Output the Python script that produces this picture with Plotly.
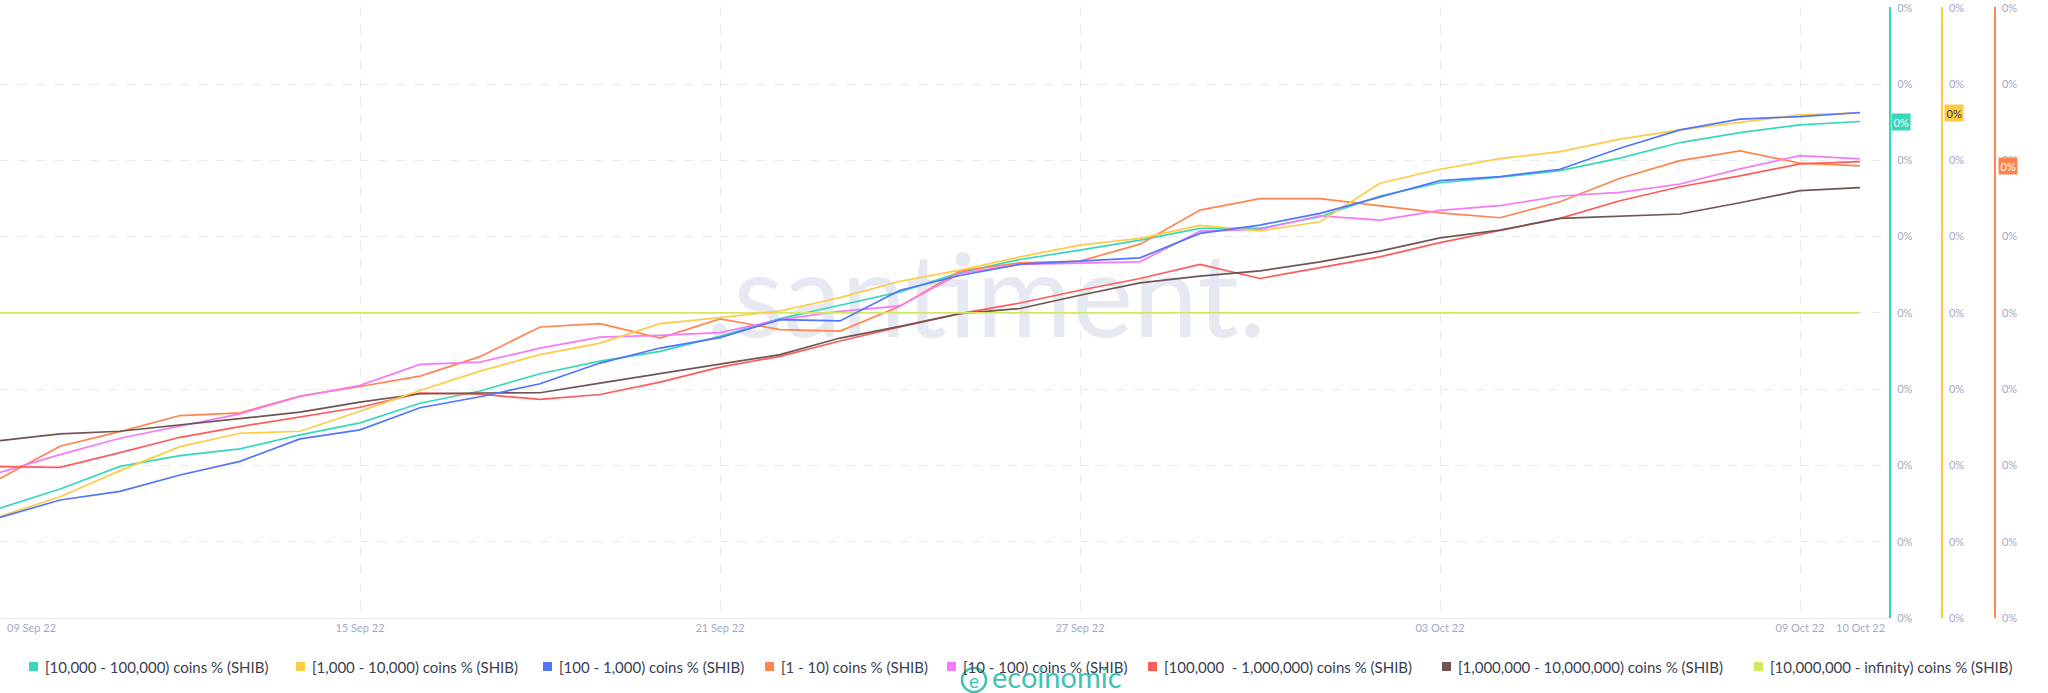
import pandas as pd
import plotly.graph_objects as go

# ---------------- data ----------------
dates = pd.date_range("2022-09-09", periods=32, freq="D")

series_names = [
    "[10,000 - 100,000) coins % (SHIB)",
    "[1,000 - 10,000) coins % (SHIB)",
    "[100 - 1,000) coins % (SHIB)",
    "[1 - 10) coins % (SHIB)",
    "[10 - 100) coins % (SHIB)",
    "[100,000  - 1,000,000) coins % (SHIB)",
    "[1,000,000 - 10,000,000) coins % (SHIB)",
    "[10,000,000 - infinity) coins % (SHIB)",
]

teal_10k_100k = [1.441, 1.691, 1.988, 2.129, 2.217, 2.401, 2.558, 2.816, 2.976, 3.202, 3.368,
                 3.495, 3.693, 3.925, 4.100, 4.275, 4.527, 4.700, 4.823, 4.954, 5.108, 5.108,
                 5.260, 5.532, 5.706, 5.778, 5.865, 6.028, 6.233, 6.364, 6.465, 6.509]
yellow_1k_10k = [1.331, 1.590, 1.932, 2.247, 2.422, 2.448, 2.711, 2.983, 3.237, 3.452, 3.604,
                 3.859, 3.938, 4.025, 4.201, 4.415, 4.560, 4.735, 4.888, 4.976, 5.147, 5.076,
                 5.194, 5.699, 5.883, 6.022, 6.114, 6.277, 6.399, 6.495, 6.597, 6.619]
blue_100_1k = [1.318, 1.547, 1.660, 1.875, 2.054, 2.348, 2.466, 2.756, 2.900, 3.071, 3.342,
               3.539, 3.675, 3.912, 3.894, 4.297, 4.490, 4.639, 4.678, 4.721, 5.042, 5.151,
               5.305, 5.515, 5.733, 5.786, 5.883, 6.159, 6.399, 6.540, 6.574, 6.627]
orange_1_10 = [1.830, 2.251, 2.444, 2.654, 2.690, 2.908, 3.035, 3.171, 3.426, 3.815, 3.859,
               3.670, 3.920, 3.781, 3.762, 4.087, 4.549, 4.656, 4.678, 4.901, 5.348, 5.497,
               5.497, 5.401, 5.311, 5.247, 5.457, 5.765, 5.996, 6.124, 5.962, 5.926]
pink_10_100 = [1.909, 2.142, 2.356, 2.514, 2.677, 2.904, 3.049, 3.325, 3.355, 3.539, 3.683,
               3.706, 3.741, 3.912, 4.021, 4.091, 4.516, 4.635, 4.656, 4.669, 5.072, 5.095,
               5.273, 5.217, 5.344, 5.405, 5.532, 5.581, 5.690, 5.887, 6.062, 6.018]
red_100k_1m = [1.984, 1.975, 2.168, 2.369, 2.510, 2.632, 2.763, 2.947, 2.934, 2.865, 2.930,
               3.092, 3.289, 3.430, 3.631, 3.815, 3.991, 4.130, 4.297, 4.451, 4.635, 4.451,
               4.590, 4.735, 4.921, 5.085, 5.239, 5.470, 5.654, 5.795, 5.953, 5.983]
brown_1m_10m = [2.326, 2.414, 2.448, 2.532, 2.611, 2.698, 2.829, 2.940, 2.950, 2.953, 3.079,
                3.202, 3.334, 3.452, 3.670, 3.824, 3.991, 4.057, 4.231, 4.393, 4.481, 4.551,
                4.669, 4.809, 4.983, 5.085, 5.239, 5.269, 5.296, 5.444, 5.602, 5.641]
lime_10m_inf = [4.0, 4.0, 4.0, 4.0, 4.0, 4.0, 4.0, 4.0, 4.0, 4.0, 4.0, 4.0, 4.0, 4.0, 4.0, 4.0,
                4.0, 4.0, 4.0, 4.0, 4.0, 4.0, 4.0, 4.0, 4.0, 4.0, 4.0, 4.0, 4.0, 4.0, 4.0, 4.0]

series_values = [teal_10k_100k, yellow_1k_10k, blue_100_1k, orange_1_10,
                 pink_10_100, red_100k_1m, brown_1m_10m, lime_10m_inf]

x_tick_dates = ["2022-09-09", "2022-09-15", "2022-09-21", "2022-09-27", "2022-10-03", "2022-10-09"]
x_tick_text = ["", "15 Sep 22", "21 Sep 22", "27 Sep 22", "03 Oct 22", "09 Oct 22"]
y_tick_vals = [0, 1, 2, 3, 4, 5, 6, 7, 8]
y_tick_text = ["0%"] * 9

# ---------------- style ----------------
colors = ["#37D7BA", "#FFCB47", "#5275FF", "#FF8450", "#F47BF7", "#FF5B5B", "#6E5552", "#D4E763"]
yaxes = ["y", "y2", "y3", "y", "y", "y", "y", "y"]
FONT = "Lato"
TICK_COLOR = "#9FAAC4"
GRID = "#E7EAF3"

W, H = 2048, 693
L, R, T, B = 0, 48, 7, 75
PW, PH = W - L - R, H - T - B
Y_TOP = 8.01


def px(x):
    return x / PW


def py(y):
    return (T + PH - y) / PH


x_start = pd.Timestamp("2022-09-09")
x_end = pd.Timestamp("2022-10-10 11:36")

fig = go.Figure()

# watermark (drawn first so the lines sit above it)
fig.add_trace(go.Scatter(
    x=[x_start + (x_end - x_start) * 0.522], y=[y_tick_vals[-1] * 0.508],
    mode="text", text=[".santiment."],
    textfont=dict(family=FONT, size=116, color="#E6E9F1", weight=400),
    hoverinfo="skip", showlegend=False,
))

for name, vals, col, ya in zip(series_names, series_values, colors, yaxes):
    fig.add_trace(go.Scatter(
        x=dates, y=vals, name=name, mode="lines", yaxis=ya,
        line=dict(color=col, width=1.7), showlegend=False,
    ))

common_y = dict(range=[0, Y_TOP], tickvals=y_tick_vals, ticktext=y_tick_text,
                tickfont=dict(family=FONT, size=11, color=TICK_COLOR),
                ticks="", zeroline=False, fixedrange=True, automargin=False,
                ticklabelstandoff=4)

fig.update_layout(
    width=W, height=H,
    margin=dict(l=L, r=R, t=T, b=B, pad=0),
    paper_bgcolor="white", plot_bgcolor="white",
    font=dict(family=FONT),
    showlegend=False,
    xaxis=dict(
        type="date", range=[x_start, x_end], domain=[0, 1889 / PW],
        tickvals=x_tick_dates, ticktext=x_tick_text,
        tickfont=dict(family=FONT, size=11, color=TICK_COLOR),
        showgrid=True, gridcolor=GRID, griddash="dash", gridwidth=1,
        showline=True, linecolor=GRID, linewidth=1, ticks="",
        zeroline=False, fixedrange=True, automargin=False,
    ),
    yaxis=dict(side="right", anchor="x", showline=True, linecolor=colors[0], linewidth=2,
               showgrid=True, gridcolor=GRID, griddash="dash", gridwidth=1, **common_y),
    yaxis2=dict(side="right", overlaying="y", anchor="free", position=1942 / PW,
                showline=True, linecolor=colors[1], linewidth=1.5, showgrid=False, **common_y),
    yaxis3=dict(side="right", overlaying="y", anchor="free", position=1995 / PW,
                showline=True, linecolor=colors[3], linewidth=1.5, showgrid=False, **common_y),
)

annotations = []
shapes = []

# x labels that sit at the edges
annotations.append(dict(xref="paper", yref="paper", x=px(5), y=py(628), xanchor="left", yanchor="middle",
                        text="09 Sep 22", showarrow=False,
                        font=dict(family=FONT, size=11, color=TICK_COLOR)))
annotations.append(dict(xref="x", yref="paper", x="2022-10-10", y=py(628), xanchor="center", yanchor="middle",
                        text="10 Oct 22", showarrow=False,
                        font=dict(family=FONT, size=11, color=TICK_COLOR)))

# last-value tags on the coloured axes
tag_specs = [(0, 1891, "y", "white"), (1, 1944, "y2", "#2F354D"), (3, 1998, "y3", "white")]
for idx, xpix, yref, tcol in tag_specs:
    annotations.append(dict(xref="paper", yref=yref, x=px(xpix), y=series_values[idx][-1],
                            xanchor="left", yanchor="middle", text="0%", showarrow=False,
                            bgcolor=colors[idx], borderpad=1.5,
                            font=dict(family=FONT, size=11, color=tcol)))

# custom legend (square swatches)
legend_sq_x = [29, 296, 543, 765, 947, 1148, 1442, 1754]
for name, col, sx in zip(series_names, colors, legend_sq_x):
    shapes.append(dict(type="rect", xref="paper", yref="paper",
                       x0=px(sx), x1=px(sx + 9), y0=py(671), y1=py(662),
                       fillcolor=col, line=dict(width=0)))
    annotations.append(dict(xref="paper", yref="paper", x=px(sx + 14), y=py(666.5),
                            xanchor="left", yanchor="middle", text=name, showarrow=False,
                            font=dict(family=FONT, size=15, color="#3A3F52")))

# source logo
LOGO = "#3CC3B4"
shapes.append(dict(type="circle", xref="paper", yref="paper",
                   x0=px(962), x1=px(986), y0=py(692), y1=py(668),
                   line=dict(color=LOGO, width=2.5)))
annotations.append(dict(xref="paper", yref="paper", x=px(974), y=py(680), xanchor="center",
                        yanchor="middle", text="e", showarrow=False,
                        font=dict(family=FONT, size=19, color=LOGO)))
annotations.append(dict(xref="paper", yref="paper", x=px(990), y=py(676), xanchor="left",
                        yanchor="middle", text="ecoinomic", showarrow=False,
                        font=dict(family=FONT, size=29, color=LOGO)))

fig.update_layout(annotations=annotations, shapes=shapes)

fig.write_html("out.html", config={"displayModeBar": False},
               post_script="document.body.style.margin='0';document.body.style.overflow='hidden';")
